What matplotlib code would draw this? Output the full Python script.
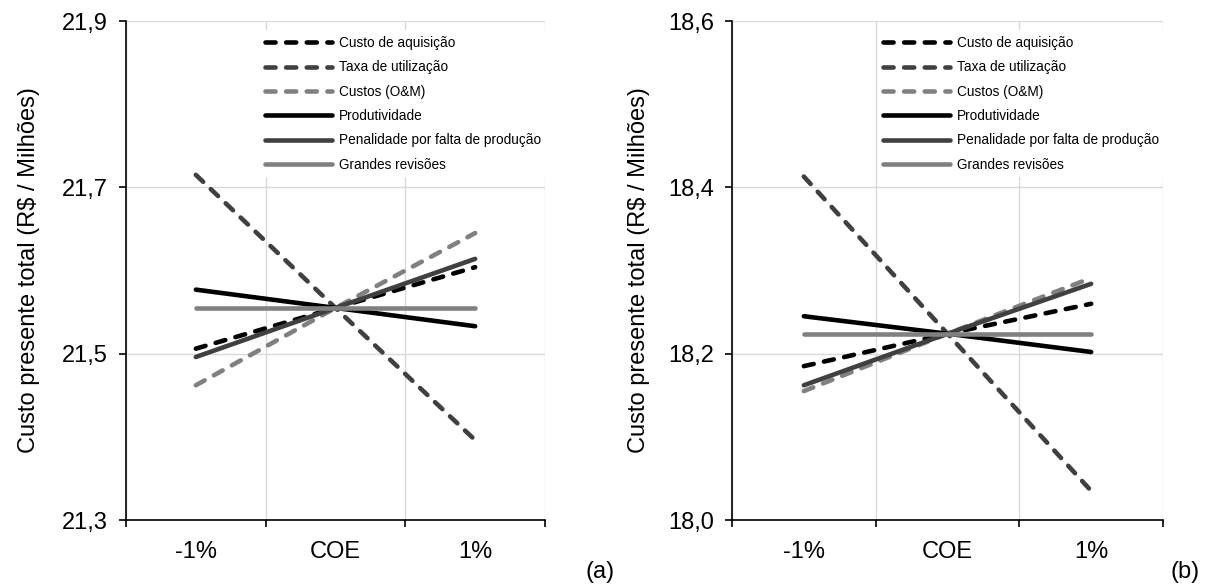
"""Sensitivity of total present cost to +/-1% variation of each parameter."""

import matplotlib

matplotlib.use("Agg")
import matplotlib.pyplot as plt
from matplotlib.ticker import FixedLocator, FuncFormatter

plt.rcParams["font.family"] = ["Liberation Sans", "DejaVu Sans"]

categories = ["-1%", "COE", "1%"]
series_names = [
    "Custo de aquisição",
    "Taxa de utilização",
    "Custos (O&M)",
    "Produtividade",
    "Penalidade por falta de produção",
    "Grandes revisões",
]

# panel (a)
a_aquisicao = [21.506, 21.555, 21.604]
a_utilizacao = [21.715, 21.555, 21.396]
a_om = [21.462, 21.555, 21.645]
a_produtividade = [21.577, 21.555, 21.533]
a_penalidade = [21.496, 21.555, 21.614]
a_revisoes = [21.555, 21.555, 21.555]
a_yticks = [21.3, 21.5, 21.7, 21.9]

# panel (b)
b_aquisicao = [18.185, 18.224, 18.260]
b_utilizacao = [18.413, 18.224, 18.035]
b_om = [18.155, 18.224, 18.291]
b_produtividade = [18.245, 18.224, 18.202]
b_penalidade = [18.162, 18.224, 18.284]
b_revisoes = [18.224, 18.224, 18.224]
b_yticks = [18.0, 18.2, 18.4, 18.6]

styles = [
    dict(color="#000000", dashed=True),
    dict(color="#404040", dashed=True),
    dict(color="#808080", dashed=True),
    dict(color="#000000", dashed=False),
    dict(color="#404040", dashed=False),
    dict(color="#808080", dashed=False),
]

fig = plt.figure(figsize=(12.22, 5.88), dpi=100)
ax_a = fig.add_axes([126 / 1222, 1 - 520 / 588, 419 / 1222, 499 / 588])
ax_b = fig.add_axes([732 / 1222, 1 - 520 / 588, 431 / 1222, 499 / 588])


def draw_panel(ax, data, yticks, label_x):
    xs = [i + 0.5 for i in range(len(categories))]
    for name, values, st in zip(series_names, data, styles):
        kw = dict(color=st["color"], lw=3.3, solid_capstyle="round", label=name)
        if st["dashed"]:
            kw.update(dashes=(2.2, 2.3), dash_capstyle="round")
        ax.plot(xs, values, **kw)

    ax.set_xlim(0, len(categories))
    ax.set_ylim(yticks[0], yticks[-1])
    ax.xaxis.set_major_locator(FixedLocator(range(len(categories) + 1)))
    ax.xaxis.set_major_formatter(FuncFormatter(lambda v, p: ""))
    ax.set_xticks(xs, categories, minor=True)
    ax.set_yticks(yticks)
    ax.yaxis.set_major_formatter(FuncFormatter(lambda v, p: f"{v:.1f}".replace(".", ",")))

    ax.tick_params(axis="x", which="major", direction="out", length=5, width=1.2)
    ax.tick_params(axis="x", which="minor", length=0, pad=15, labelsize=17)
    ax.tick_params(axis="y", direction="out", length=5, width=1.2, pad=8, labelsize=17)

    for side in ("top", "right"):
        ax.spines[side].set_visible(False)
    for side in ("left", "bottom"):
        ax.spines[side].set_linewidth(1.2)

    ax.grid(True, which="major", color="#d9d9d9", lw=1.0)
    ax.set_axisbelow(True)

    ax.set_ylabel("Custo presente total (R$ / Milhões)", fontsize=17)
    ax.yaxis.set_label_coords(label_x, 0.5)

    ax.legend(
        loc="upper right", bbox_to_anchor=(1.003, 0.981), fontsize=9.8,
        handlelength=4.9, handletextpad=0.5, labelspacing=0.76,
        borderpad=0.4, borderaxespad=0.0, fancybox=False, framealpha=1.0,
        edgecolor="none",
    )


draw_panel(ax_a, [a_aquisicao, a_utilizacao, a_om, a_produtividade, a_penalidade, a_revisoes],
           a_yticks, -0.205)
draw_panel(ax_b, [b_aquisicao, b_utilizacao, b_om, b_produtividade, b_penalidade, b_revisoes],
           b_yticks, -0.19)

fig.text(600 / 1222, 1 - 572 / 588, "(a)", fontsize=17, ha="center", va="center")
fig.text(1185 / 1222, 1 - 572 / 588, "(b)", fontsize=17, ha="center", va="center")

fig.savefig("out.png", dpi=100)
plt.close(fig)
